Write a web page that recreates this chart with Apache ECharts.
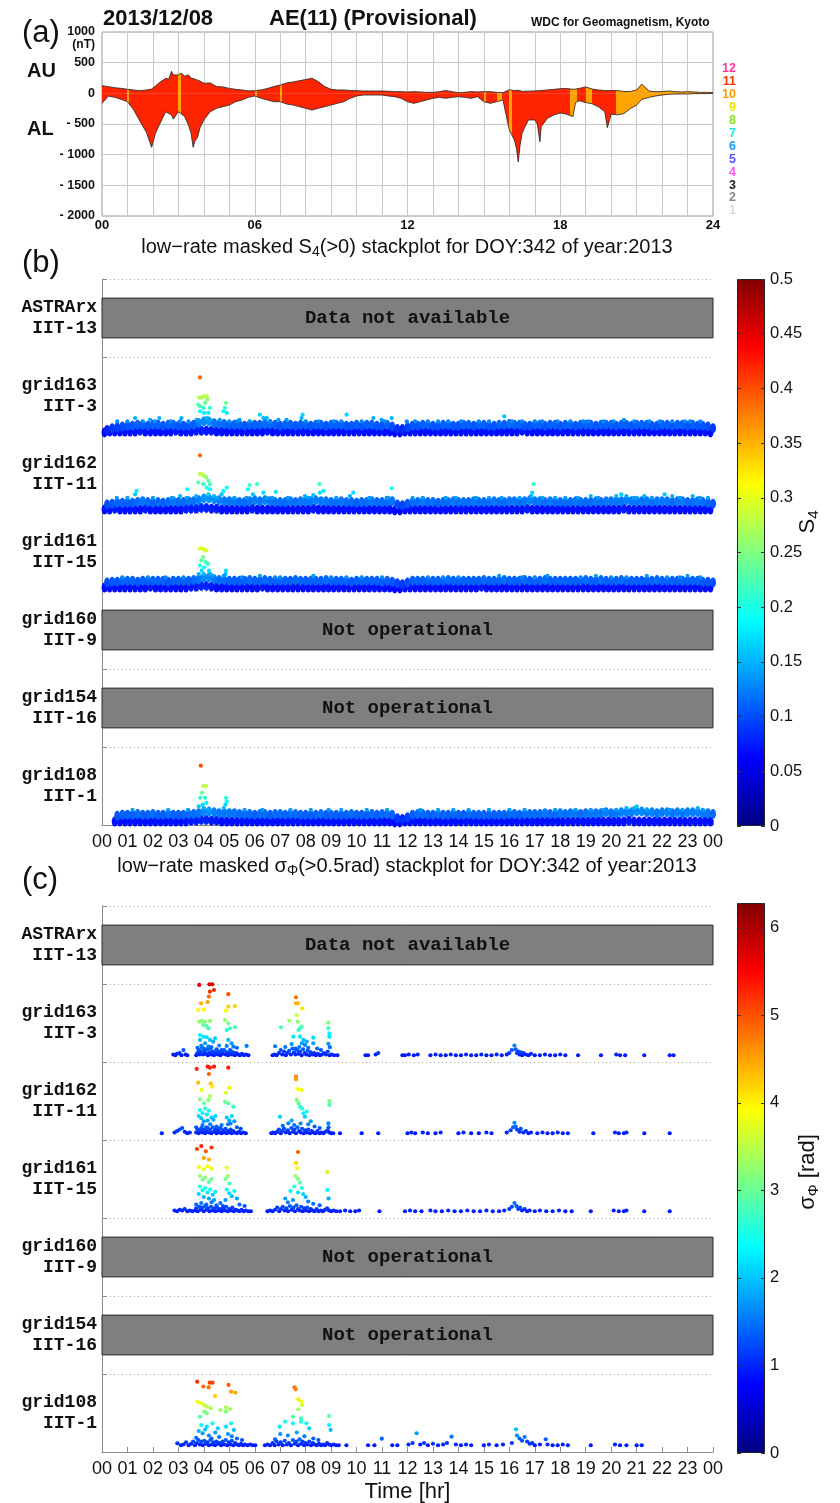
<!DOCTYPE html>
<html><head><meta charset="utf-8">
<script src="https://cdn.jsdelivr.net/npm/echarts@6.0.0/dist/echarts.min.js"></script>
<style>html,body{margin:0;padding:0;background:#fff}#c{width:840px;height:1503px}</style>
</head><body><div id="c"></div>
<script>
// ================= DATA =================
// (a) AE index, hours vs nT
const aeUpper = [[0,125],[0.25,109],[0.5,92],[0.75,81],[1,65],[1.25,54],[1.5,43],[1.75,54],[1.95,70],[2,81],[2.1,120],[2.25,174],[2.5,244],[2.62,230],[2.73,360],[2.8,300],[2.86,320],[3,300],[3.1,330],[3.25,280],[3.4,300],[3.5,250],[3.58,240],[3.65,270],[3.75,215],[3.85,200],[4,165],[4.25,170],[4.5,110],[4.75,105],[5,80],[5.25,65],[5.5,55],[5.75,40],[6,43],[6.25,55],[6.5,80],[6.75,110],[7,135],[7.25,170],[7.5,185],[7.75,205],[8,225],[8.25,245],[8.5,190],[8.75,110],[9,65],[9.25,55],[9.5,55],[9.75,45],[10,43],[10.25,38],[10.5,38],[10.75,38],[11,38],[11.25,33],[11.5,27],[11.75,27],[12,22],[12.25,27],[12.5,22],[12.75,16],[13,16],[13.25,27],[13.5,45],[13.75,27],[14,11],[14.25,16],[14.5,27],[14.75,22],[15,27],[15.25,27],[15.5,16],[15.75,11],[16,60],[16.2,45],[16.28,50],[16.35,40],[16.42,45],[16.5,30],[16.6,35],[16.75,35],[17,40],[17.1,42],[17.2,45],[17.25,45],[17.5,55],[17.75,65],[18,75],[18.25,80],[18.5,65],[18.6,70],[18.75,80],[19,105],[19.25,70],[19.5,55],[19.75,45],[19.85,45],[20,45],[20.25,45],[20.5,30],[20.75,30],[21,55],[21.2,150],[21.25,120],[21.5,35],[21.75,27],[22,27],[22.25,38],[22.5,27],[22.75,22],[23,27],[23.25,22],[23.5,16],[23.75,16],[24,11]];
const aeLower = [[0,-163],[0.25,-45],[0.5,-65],[0.75,-98],[1,-136],[1.25,-272],[1.5,-462],[1.75,-640],[1.95,-880],[2,-800],[2.1,-650],[2.25,-516],[2.5,-300],[2.62,-330],[2.73,-350],[2.8,-420],[2.86,-440],[3,-300],[3.1,-330],[3.25,-380],[3.4,-520],[3.5,-650],[3.58,-880],[3.65,-780],[3.75,-720],[3.85,-560],[4,-434],[4.25,-300],[4.5,-244],[4.75,-217],[5,-190],[5.25,-136],[5.5,-109],[5.75,-65],[6,-43],[6.25,-81],[6.5,-109],[6.75,-136],[7,-136],[7.25,-174],[7.5,-190],[7.75,-217],[8,-244],[8.25,-272],[8.5,-244],[8.75,-217],[9,-190],[9.25,-163],[9.5,-136],[9.75,-81],[10,-43],[10.25,-27],[10.5,-27],[10.75,-27],[11,-27],[11.25,-43],[11.5,-54],[11.75,-81],[12,-136],[12.25,-163],[12.5,-136],[12.75,-109],[13,-81],[13.25,-65],[13.5,-81],[13.75,-65],[14,-54],[14.25,-65],[14.5,-81],[14.75,-54],[15,-136],[15.25,-163],[15.5,-136],[15.75,-109],[16,-600],[16.2,-760],[16.28,-900],[16.35,-1120],[16.42,-850],[16.5,-652],[16.6,-560],[16.75,-434],[17,-434],[17.1,-500],[17.2,-790],[17.25,-543],[17.5,-407],[17.75,-353],[18,-320],[18.25,-340],[18.5,-380],[18.6,-150],[18.75,-120],[19,-150],[19.25,-170],[19.5,-220],[19.75,-300],[19.85,-560],[20,-340],[20.25,-350],[20.5,-330],[20.75,-250],[21,-190],[21.2,-100],[21.25,-90],[21.5,-65],[21.75,-43],[22,-27],[22.25,-16],[22.5,-11],[22.75,-11],[23,-11],[23.25,-5],[23.5,-5],[23.75,-5],[24,0]];
// spans where only 10 stations contributed (orange)
const aeTenStationSpans = [[1.0,1.07],[3.0,3.1],[6.0,6.07],[6.98,7.08],[15.0,15.08],[15.5,15.7],[16.0,16.1],[18.4,18.64],[19.0,19.25],[20.18,24.01]];
const stationCounts = ['12','11','10','9','8','7','6','5','4','3','2','1'];

// rows of the stackplots
const rowNames = ['ASTRArx\nIIT-13','grid163\nIIT-3','grid162\nIIT-11','grid161\nIIT-15','grid160\nIIT-9','grid154\nIIT-16','grid108\nIIT-1'];
const rowStatus = ['Data not available',null,null,null,'Not operational','Not operational',null];
const hourLabels = ['00','01','02','03','04','05','06','07','08','09','10','11','12','13','14','15','16','17','18','19','20','21','22','23','00'];

// (b) S4 dense band: upper points and lower points, one every 12 min (units of 0.01)
const s4Hi163 = [8,9,9.5,10,10.5, 10.5,11,11,10.5,11, 11,10.5,11,11,10.5, 10.5,10.5,11,12,13, 13,12,11.5,11.5,11, 11,11,10.5,11,11, 11,11.5,11.5,11,10.5, 11,11,10.5,11,11, 10.5,11,11,10.5,11, 11,11,10.5,10.5,11, 10.5,11,11,10.5,10.5, 11,10,8.5,8.5,9.5, 10.5,10.5,11,11,10.5, 10.5,11,11,10.5,10.5, 11,11,10.5,11,11, 10.5,10.5,11,11,11.5, 11,11,10.5,10.5,11, 11,10.5,11,11,10.5, 11,11,10.5,11,11, 11,10.5,11,11,11, 10.5,11,11,10.5,11, 11,11,10.5,10.5,11, 11,10.5,11,11,10.5, 11,10.5,10.5,10,9];
const s4Lo163 = [6.5,7,7,7,7, 7,7,7.5,7,7, 7,7,7,7,7.5, 7,7,7,7.5,7.5, 7.5,7.5,7,7,7, 7,7,7,7,7, 7,7,7.5,7,7, 7,7,7,7,7, 7,7,7,7,7, 7,7,7,7,7, 7,7,7,7,7, 7,7,6.5,6.5,7, 7,7,7,7,7, 7,7,7,7,7, 7,7,7,7,7, 7,7,7,7,7, 7,7,7.5,7,7, 7,7,7,7,7, 7,7,7,7,7, 7,7,7,7,7, 7,7,7,7,7, 7,7,7,7,7, 7,7,7,7,7, 7,7,7,7,6.5];
const s4Hi162 = [10,10.5,11,11,11, 11,11.5,12,11.5,11, 11.5,11,11.5,12,11.5, 11.5,12,12,12.5,13.5, 13.5,13,12.5,12,12, 12,11.5,11.5,12,12.5, 12,12.5,12,11.5,11.5, 11.5,12,11.5,12,12, 12,12.5,12,12,11.5, 11.5,12,11.5,11.5,11, 11.5,11.5,12,11.5,11.5, 11.5,12,10,9.5,10.5, 11.5,11.5,12,11.5,11.5, 11,11.5,11.5,12,11.5, 11.5,11.5,12,11.5,11.5, 11.5,12,11.5,11.5,12, 12,11.5,12,12.5,12, 12,11.5,12,11.5,11.5, 11.5,11.5,12,11.5,11.5, 11.5,12,11.5,12,12, 12,12,12.5,12,12, 12,12,11.5,12,12, 12,11.5,12,12,11.5, 11.5,12,11.5,11,10.5];
const s4Lo162 = [7,7,7.5,7,7, 7,7,7,7.5,7, 7,7,7,7,7, 7,7.5,7.5,7.5,8, 8,7.5,7.5,7,7, 7,7,7,7,7.5, 7,7,7,7,7, 7,7,7,7,7, 7,7.5,7,7,7, 7,7,7,7,7, 7,7,7,7,7, 7,7,6.5,6.5,7, 7,7,7,7,7, 7,7,7,7,7, 7,7,7,7,7, 7,7,7,7,7, 7,7,7,7.5,7, 7,7,7,7,7, 7,7,7,7,7, 7,7,7,7,7, 7,7,7.5,7,7, 7,7,7,7,7, 7,7,7,7,7, 7,7,7,7,7];
const s4Hi161 = [10,10.5,10.5,11,11, 11,10.5,11,11,11, 11,11,10.5,11,11, 11,11,11.5,12,13, 13,12,11.5,11.5,11, 11,11,11,11.5,11, 11,11.5,11,11,11, 11,11,11.5,11,11, 11,11,11,11.5,11, 11,11,11,10.5,11, 11,11,11,11,10.5, 11,10.5,9.5,9,10, 11,11,11,11,11, 11,11,11.5,11,11, 11,11,11,11,11.5, 11,11,11,11.5,11, 11,11,11.5,11,11, 11,11.5,11,11,11, 11,11,11,11,11.5, 11,11,11.5,11,11, 11,11.5,11,11,11, 11,11,11,11.5,11, 11,11,11,11,11, 11,11,10.5,10.5,10];
const s4Lo161 = [7,7,7,7,7, 7,7,7,7,7.5, 7,7,7,7,7, 7,7,7.5,7.5,8, 8,7.5,7,7,7, 7,7,7,7,7, 7,7.5,7,7,7, 7,7,7,7,7, 7,7,7,7,7, 7,7,7,7,7, 7,7,7,7,7, 7,7,6.5,6.5,7, 7,7,7,7,7, 7,7,7,7,7, 7,7,7,7,7.5, 7,7,7,7,7, 7,7,7,7,7, 7,7,7,7,7, 7,7,7,7,7, 7,7,7,7,7, 7,7,7,7,7, 7,7,7,7,7, 7,7,7,7,7, 7,7,7,7,7];
const s4Hi108 = [null,null,10.5,11,11, 11,11.5,11,11,11.5, 11,11,11.5,11,11, 11,11.5,11.5,12,13, 13,12.5,12,12,12, 12,11.5,11.5,11.5,11, 11.5,11.5,11,11.5,11.5, 11,11.5,11.5,11,11, 11,11,11.5,11,11, 11,11,11,11.5,11, 11,11,11.5,11,11.5, 11.5,11,9,8.5,9.5, 11,11.5,11.5,11,11, 11.5,11,11,11.5,11, 11,11.5,11,11,11, 11,11,11,11,11.5, 11.5,11,11.5,11.5,11.5, 11.5,12,11.5,11.5,12, 11.5,12,12,11.5,12, 12,12,12,12.5,12, 12,12.5,12.5,12.5,13, 13,12.5,12.5,12,12.5, 12.5,12,12.5,12,12.5, 12.5,12.5,12,12,11.5];
const s4Lo108 = [null,null,7,7,7, 7,7,7,7,7, 7,7,7,7,7, 7,7,7.5,7.5,8, 8,7.5,7.5,7,7, 7,7,7,7,7, 7,7,7,7,7, 7,7,7,7,7, 7,7,7,7,7, 7,7,7,7,7, 7,7,7,7,7, 7,7,6.5,6.5,7, 7,7,7,7,7, 7,7,7,7,7, 7,7,7,7,7, 7,7,7,7,7, 7,7,7,7,7, 7,7,7,7,7, 7,7,7,7,7, 7,7,7,7,7, 7,7,7,7.5,7, 7,7,7,7,7, 7,7,7,7,7, 7,7,7,7,7];
// (b) S4 points above the band [hour, S4]
const s4Out163 = [[3.85,0.39],[3.82,0.27],[3.91,0.27],[4.01,0.28],[4.11,0.28],[4.14,0.26],[4.05,0.24],[3.78,0.23],[3.85,0.22],[3.98,0.21],[4.01,0.18],[3.85,0.19],[4.24,0.21],[4.18,0.18],[4.87,0.24],[4.83,0.21],[4.9,0.18],[4.77,0.19],[3.72,0.14],[3.85,0.13],[4.11,0.15],[4.24,0.14],[3.12,0.15],[3.06,0.13],[1.3,0.15],[1.89,0.14],[2.08,0.13],[2.25,0.15],[4.63,0.14],[6.2,0.17],[6.34,0.15],[6.47,0.15],[6.93,0.14],[7.25,0.14],[7.88,0.17],[7.84,0.15],[9.61,0.17],[10.66,0.15],[10.98,0.14],[11.38,0.15],[11.97,0.13],[12.3,0.13],[15.8,0.16],[5.4,0.14],[5.3,0.13],[8.5,0.13],[13.2,0.13],[14.1,0.13],[16.5,0.13],[17.3,0.13],[18.4,0.13],[19.7,0.13],[20.5,0.14],[21.5,0.13],[22.4,0.13],[23.1,0.13],[0.6,0.13],[2.7,0.13],[9.1,0.13],[10.2,0.13],[12.8,0.13],[14.8,0.13],[17.9,0.13],[19.1,0.13],[20.9,0.13],[22.9,0.13],[1.0,0.13],[1.6,0.13],[3.4,0.13],[5.0,0.13],[5.8,0.13],[6.6,0.13],[8.0,0.13],[9.4,0.13],[11.1,0.13],[13.6,0.13],[15.2,0.13],[16.1,0.13],[17.0,0.13],[18.9,0.13],[20.1,0.13],[21.9,0.13],[23.5,0.13]];
const s4Out162 = [[3.85,0.39],[3.85,0.28],[3.91,0.28],[4.01,0.27],[4.09,0.26],[4.18,0.24],[4.24,0.22],[3.78,0.23],[3.98,0.22],[4.11,0.2],[4.24,0.19],[4.18,0.16],[3.35,0.19],[4.9,0.2],[4.77,0.18],[4.7,0.16],[1.36,0.18],[1.3,0.16],[5.8,0.215],[6.09,0.22],[5.73,0.19],[5.93,0.16],[5.68,0.14],[6.34,0.17],[6.83,0.175],[6.7,0.14],[6.47,0.14],[8.54,0.22],[8.7,0.18],[8.56,0.17],[8.3,0.156],[8.1,0.14],[7.97,0.15],[9.87,0.17],[9.74,0.15],[11.38,0.196],[11.18,0.14],[11.25,0.14],[2.74,0.14],[3.07,0.15],[3.33,0.14],[0.58,0.14],[16.95,0.22],[16.9,0.17],[16.85,0.15],[16.4,0.14],[17.3,0.14],[19.2,0.15],[19.5,0.14],[20.2,0.15],[20.4,0.16],[20.6,0.15],[20.9,0.14],[21.3,0.15],[21.6,0.14],[22.1,0.16],[22.4,0.15],[22.7,0.14],[23.2,0.15],[23.5,0.14],[14.7,0.14],[15.2,0.14],[13.5,0.14],[12.6,0.14],[18.2,0.14],[10.5,0.14],[4.4,0.15],[3.7,0.15],[4.55,0.14],[1.0,0.14],[2.0,0.14],[5.2,0.14],[7.3,0.14],[9.2,0.14],[12.2,0.14],[13.9,0.14],[15.7,0.14],[17.8,0.14],[18.7,0.14],[21.0,0.14],[23.8,0.14]];
const s4Out161 = [[3.85,0.3],[3.95,0.3],[4.05,0.29],[4.1,0.29],[3.98,0.25],[3.9,0.23],[4.08,0.22],[4.16,0.21],[3.85,0.2],[4.02,0.19],[3.92,0.17],[4.2,0.17],[4.26,0.15],[3.8,0.15],[4.0,0.15],[4.35,0.14],[4.87,0.17],[4.85,0.15],[4.78,0.14],[1.8,0.13],[2.5,0.13],[5.5,0.13],[6.2,0.14],[7.0,0.13],[8.3,0.14],[9.0,0.13],[10.2,0.13],[11.0,0.13],[12.8,0.13],[14.0,0.13],[15.6,0.14],[16.5,0.13],[17.5,0.14],[18.8,0.13],[19.4,0.14],[20.6,0.13],[21.4,0.14],[22.2,0.13],[23.0,0.14],[23.5,0.13],[0.8,0.13],[3.2,0.13],[6.8,0.13],[9.6,0.13],[13.4,0.13],[17.0,0.13],[20.0,0.13],[22.7,0.13]];
const s4Out108 = [[3.88,0.4],[3.98,0.28],[4.08,0.28],[3.93,0.24],[3.86,0.21],[4.05,0.21],[3.95,0.17],[4.1,0.18],[4.0,0.15],[3.8,0.16],[4.2,0.14],[4.87,0.21],[4.9,0.19],[4.85,0.17],[4.78,0.15],[3.38,0.14],[6.3,0.14],[7.4,0.14],[9.4,0.14],[11.2,0.14],[13.2,0.14],[15.2,0.14],[17.8,0.14],[19.2,0.14],[20.2,0.14],[20.6,0.15],[21.0,0.16],[20.9,0.15],[21.4,0.14],[22.8,0.14],[23.4,0.15],[23.6,0.14],[8.2,0.14],[10.4,0.14],[12.5,0.14],[14.4,0.14],[16.6,0.14],[18.6,0.14],[1.2,0.14],[2.6,0.14],[5.6,0.14],[8.9,0.14],[13.8,0.14],[16.0,0.14],[19.7,0.14],[22.3,0.14]];

// (c) sigma-phi points [hour, rad]
const phi163 = [[3.82,5.64],[4.22,5.68],[4.33,5.68],[4.4,5.3],[4.24,5.19],[4.2,4.86],[4.96,5.02],[3.89,4.41],[4.15,4.5],[4.96,4.19],[5.22,4.23],[3.78,3.97],[4.01,3.99],[4.87,3.92],[3.82,3.19],[3.91,3.24],[4.05,3.19],[4.24,3.24],[4.11,2.9],[4.18,2.75],[3.98,2.97],[4.83,3.3],[4.96,3.08],[5.03,2.75],[5.22,2.82],[4.9,2.63],[3.85,2.3],[3.98,2.19],[4.11,2.15],[4.24,1.97],[4.37,1.85],[4.44,2.08],[3.85,1.97],[4.05,1.75],[4.18,1.52],[4.96,1.97],[5.09,1.75],[5.16,1.52],[4.9,1.57],[5.03,1.3],[3.9,1.6],[4.0,1.4],[4.3,1.5],[4.5,1.35],[4.6,1.6],[4.7,1.3],[5.3,1.45],[5.68,1.57],[3.75,1.45],[4.55,1.2],
 [7.03,2.81],[7.36,3.25],[7.62,4.81],[7.62,4.41],[7.69,4.41],[7.87,4.08],[7.65,3.63],[7.69,3.19],[7.78,2.75],[7.85,2.86],[7.72,2.63],[7.52,2.19],[7.78,2.19],[7.91,1.97],[7.85,1.75],[7.97,1.64],[8.04,1.86],[8.3,2.12],[8.3,1.75],[8.89,3.12],[8.89,2.75],[8.93,2.41],[8.93,2.19],[8.89,1.71],[8.95,1.49],[6.8,1.55],[7.2,1.5],[7.45,1.7],[8.1,1.45],[8.45,1.4],[8.6,1.3],[7.6,1.4],[7.75,1.5],
 [2.8,1.0],[2.88,0.95],[2.95,1.05],[3.05,1.1],[3.12,0.95],[3.2,1.3],[3.28,1.0],[3.35,0.95],
 [3.7,0.95],[3.75,1.1],[3.8,1.3],[3.84,1.0],[3.88,1.2],[3.93,1.45],[3.97,1.0],[4.02,1.2],[4.07,1.05],[4.12,1.35],[4.16,0.95],[4.21,1.15],[4.26,1.4],[4.3,1.0],[4.35,1.2],[4.4,0.95],[4.45,1.1],[4.5,1.3],[4.55,1.0],[4.6,1.15],[4.65,0.95],[4.7,1.2],[4.75,1.05],[4.8,1.3],[4.85,1.0],[4.9,1.15],[4.95,0.95],[5.0,1.1],[5.05,1.25],[5.1,1.0],[5.15,1.15],[5.22,0.95],[5.28,1.1],[5.35,1.0],[5.42,0.95],[5.5,1.05],[5.58,0.95],[5.66,1.0],[5.75,0.95],
 [6.7,0.95],[6.78,1.0],[6.86,0.95],[6.95,1.1],[7.02,1.3],[7.08,1.0],[7.15,1.2],[7.22,0.95],[7.28,1.1],[7.35,1.25],[7.42,1.0],[7.48,1.4],[7.54,1.15],[7.6,1.0],[7.66,1.3],[7.72,1.05],[7.78,1.2],[7.84,0.95],[7.9,1.35],[7.96,1.1],[8.02,1.0],[8.08,1.25],[8.14,0.95],[8.2,1.15],[8.27,1.0],[8.34,1.1],[8.4,0.95],[8.48,1.05],[8.56,0.95],[8.64,1.0],[8.72,1.1],[8.8,1.0],[8.87,1.2],[8.94,0.95],[9.02,1.0],[9.12,0.95],[9.25,0.95],
 [10.35,0.95],[10.45,0.95],[10.75,1.0],[10.85,1.1],[11.8,0.95],[11.9,0.95],[12.05,1.0],[12.25,0.95],[12.4,1.0],[12.9,0.95],[13.1,1.0],[13.3,0.95],[13.5,0.95],[13.7,1.0],[13.9,0.95],[14.1,0.95],[14.3,1.0],[14.5,0.95],[14.7,0.95],[14.9,1.0],[15.1,0.95],[15.3,0.95],[15.5,1.0],[15.7,0.95],[15.9,1.0],[16.0,1.1],[16.1,1.3],[16.2,1.6],[16.25,1.35],[16.3,1.1],[16.35,1.2],[16.4,1.0],[16.45,1.15],[16.5,0.95],[16.55,1.1],[16.65,1.0],[16.75,0.95],[16.85,1.05],[17.0,0.95],[17.2,0.95],[17.4,1.0],[17.6,0.95],[17.8,0.95],[18.0,1.0],[18.2,0.95],[18.7,0.95],[19.6,0.95],[20.2,1.0],[20.35,0.95],[20.55,0.95],[21.3,0.95],[22.3,0.95],[22.45,0.95]];
const phi162 = [[3.72,5.24],[4.15,5.39],[4.24,5.32],[4.4,5.39],[4.2,4.9],[4.96,5.32],[3.78,4.32],[4.27,4.28],[4.33,4.06],[3.91,3.83],[4.87,3.65],[5.0,3.99],[3.85,3.21],[4.01,2.95],[4.18,3.17],[4.24,3.43],[4.83,3.06],[4.96,2.95],[5.16,2.72],[3.85,2.5],[3.95,2.3],[4.05,2.6],[4.12,2.2],[4.2,2.45],[4.3,2.0],[4.38,1.85],[3.9,1.95],[4.0,1.75],[4.15,1.8],[4.45,2.1],[3.8,2.1],[4.9,2.0],[5.0,1.8],[5.1,2.1],[5.2,1.75],[5.05,1.6],[4.95,1.55],[3.95,1.5],[4.1,1.35],[4.25,1.55],[4.5,1.4],[4.6,1.25],[4.7,1.5],[5.3,1.35],[5.45,1.25],[3.7,1.35],
 [6.99,2.05],[7.32,1.61],[7.62,4.72],[7.62,4.55],[7.69,3.9],[7.85,3.83],[7.65,3.17],[7.72,2.95],[7.78,2.72],[7.85,2.6],[7.91,2.28],[7.97,2.05],[8.04,2.4],[8.93,3.1],[8.93,2.84],[8.89,1.61],[7.1,1.45],[7.45,1.8],[7.55,1.5],[7.8,1.6],[8.1,1.55],[8.2,1.75],[8.35,1.4],[8.55,1.3],[8.9,1.35],
 [2.35,0.95],[2.85,1.0],[2.95,1.1],[3.05,1.2],[3.15,1.3],[3.25,1.05],[3.35,0.95],[3.45,1.0],
 [3.7,1.0],[3.75,1.2],[3.8,0.95],[3.85,1.15],[3.9,1.3],[3.95,1.0],[4.0,1.2],[4.05,0.95],[4.1,1.1],[4.15,1.3],[4.2,1.0],[4.25,1.2],[4.3,0.95],[4.35,1.35],[4.4,1.05],[4.45,1.2],[4.5,0.95],[4.55,1.1],[4.6,1.0],[4.65,1.3],[4.7,0.95],[4.75,1.15],[4.8,1.0],[4.85,1.25],[4.9,0.95],[4.95,1.1],[5.0,1.0],[5.05,1.2],[5.1,0.95],[5.15,1.1],[5.22,1.0],[5.3,0.95],[5.38,1.05],[5.46,0.95],[5.55,1.0],[5.65,0.95],
 [6.65,0.95],[6.72,1.0],[6.8,0.95],[6.88,1.05],[6.95,1.2],[7.02,0.95],[7.08,1.1],[7.15,1.25],[7.22,1.0],[7.3,1.15],[7.37,0.95],[7.44,1.3],[7.5,1.05],[7.56,1.2],[7.62,0.95],[7.68,1.35],[7.74,1.1],[7.8,1.0],[7.86,1.25],[7.92,0.95],[7.98,1.15],[8.04,1.0],[8.1,1.2],[8.17,0.95],[8.24,1.1],[8.3,1.0],[8.38,0.95],[8.46,1.1],[8.54,0.95],[8.62,1.0],[8.7,0.95],[8.78,1.05],[8.86,1.15],[8.93,1.0],[9.0,0.95],[9.08,0.95],
 [9.35,0.95],[10.2,0.95],[10.85,0.95],[12.0,0.95],[12.15,1.0],[12.3,0.95],[12.6,1.0],[12.8,0.95],[13.1,0.95],[13.3,1.0],[14.0,0.95],[14.2,1.0],[14.5,0.95],[14.8,0.95],[15.1,1.0],[15.3,0.95],[15.9,1.0],[16.05,1.15],[16.15,1.35],[16.2,1.65],[16.25,1.4],[16.3,1.2],[16.4,1.05],[16.45,1.25],[16.55,1.0],[16.65,1.1],[16.75,0.95],[16.85,1.0],[17.1,0.95],[17.3,1.0],[17.5,0.95],[17.7,0.95],[17.9,1.0],[18.1,0.95],[18.3,0.95],[19.3,0.95],[20.15,1.0],[20.3,0.95],[20.5,0.95],[20.6,1.0],[21.3,0.95],[22.3,0.95]];
const phi161 = [[3.73,5.1],[3.9,5.3],[4.08,4.95],[4.3,5.2],[4.2,4.4],[4.0,4.5],[3.8,3.9],[4.0,3.75],[4.15,3.95],[4.3,3.8],[4.9,3.85],[3.85,3.3],[3.95,3.05],[4.05,3.2],[4.2,2.9],[4.3,3.1],[4.85,3.1],[5.0,2.8],[4.95,3.3],[3.85,2.6],[3.95,2.35],[4.05,2.5],[4.15,2.2],[4.25,2.4],[4.35,2.05],[4.45,2.25],[3.8,2.1],[4.0,1.9],[4.2,1.8],[4.4,1.7],[4.9,2.4],[5.0,2.15],[5.1,1.95],[5.2,2.3],[5.3,1.8],[4.85,1.7],[3.9,1.5],[4.1,1.4],[4.3,1.55],[4.5,1.35],[4.65,1.5],[4.75,1.3],[5.4,1.4],[5.6,1.3],[3.7,1.4],
 [7.7,4.9],[7.62,4.17],[7.66,3.83],[7.6,3.3],[7.7,3.1],[7.78,2.85],[7.55,2.6],[7.85,2.5],[7.4,2.3],[7.7,2.2],[7.9,2.1],[8.0,1.9],[7.2,1.8],[7.3,1.55],[7.5,1.7],[8.1,1.6],[8.3,1.45],[8.85,3.57],[8.85,2.37],[8.9,1.8],[8.55,1.35],
 [2.85,1.0],[2.95,0.95],[3.05,1.05],[3.15,1.0],[3.25,1.1],[3.35,0.95],[3.45,1.0],[3.55,0.95],
 [3.65,1.0],[3.7,1.15],[3.76,0.95],[3.82,1.25],[3.88,1.05],[3.94,1.2],[4.0,0.95],[4.05,1.3],[4.1,1.05],[4.16,1.15],[4.22,0.95],[4.28,1.25],[4.34,1.0],[4.4,1.15],[4.46,0.95],[4.52,1.2],[4.58,1.0],[4.64,1.1],[4.7,0.95],[4.76,1.15],[4.82,1.0],[4.88,1.25],[4.94,0.95],[5.0,1.1],[5.06,1.0],[5.12,1.2],[5.18,0.95],[5.25,1.05],[5.32,1.0],[5.4,0.95],[5.48,1.05],[5.56,0.95],[5.65,1.0],[5.75,0.95],[5.85,0.95],
 [6.5,0.95],[6.6,1.0],[6.7,0.95],[6.8,1.05],[6.88,1.2],[6.96,0.95],[7.03,1.1],[7.1,1.25],[7.17,1.0],[7.24,1.15],[7.31,0.95],[7.38,1.3],[7.45,1.05],[7.52,1.2],[7.58,0.95],[7.64,1.35],[7.7,1.1],[7.76,1.0],[7.82,1.25],[7.88,0.95],[7.94,1.15],[8.0,1.0],[8.06,1.2],[8.13,0.95],[8.2,1.1],[8.27,1.0],[8.35,0.95],[8.43,1.1],[8.51,0.95],[8.6,1.0],[8.68,0.95],[8.76,1.05],[8.84,1.15],[8.92,1.0],[9.0,0.95],[9.1,1.0],[9.2,0.95],[9.35,0.95],[9.55,1.0],[9.75,0.95],[9.95,0.95],[10.1,1.0],
 [10.9,0.95],[11.9,0.95],[12.1,1.0],[12.3,0.95],[12.55,0.95],[12.9,1.0],[13.1,0.95],[13.35,0.95],[13.6,1.0],[13.85,0.95],[14.1,0.95],[14.35,1.0],[14.6,0.95],[14.85,0.95],[15.1,1.0],[15.35,0.95],[15.6,0.95],[15.8,1.0],[16.0,1.1],[16.1,1.25],[16.2,1.5],[16.28,1.3],[16.35,1.1],[16.42,1.2],[16.5,1.0],[16.6,1.1],[16.7,0.95],[16.8,1.0],[17.0,0.95],[17.2,1.0],[17.45,0.95],[17.7,0.95],[17.95,1.0],[18.2,0.95],[18.45,0.95],[19.2,0.95],[20.1,1.0],[20.3,0.95],[20.5,0.95],[20.6,1.0],[21.3,0.95],[22.3,0.95]];
const phi108 = [[3.74,5.19],[3.98,4.86],[4.23,5.12],[4.34,5.12],[4.19,4.81],[4.97,4.97],[5.07,4.52],[5.24,4.45],[4.44,4.23],[3.76,3.85],[3.9,3.75],[4.02,3.63],[4.12,3.52],[4.27,3.41],[4.65,3.3],[4.87,3.47],[5.03,3.36],[4.02,3.19],[4.12,3.08],[3.85,2.85],[4.87,3.19],[3.9,2.3],[4.12,2.19],[4.34,2.41],[4.55,2.08],[4.87,2.19],[5.07,2.41],[5.18,1.97],[3.8,1.9],[3.95,1.75],[4.05,2.0],[4.2,1.6],[4.45,1.8],[4.6,1.5],[4.95,1.7],[5.1,1.55],[5.3,1.4],[4.3,1.4],[3.7,1.45],[5.5,1.3],
 [7.56,4.81],[7.61,4.68],[7.71,4.01],[7.82,3.86],[7.86,3.63],[7.71,3.35],[7.5,2.85],[7.82,2.74],[6.98,2.19],[7.19,2.52],[7.5,2.41],[7.82,2.52],[8.03,2.41],[8.14,2.08],[8.92,2.9],[8.92,2.3],[8.98,1.97],[7.0,1.7],[7.3,1.6],[7.65,1.8],[7.95,1.55],[8.3,1.4],[8.5,1.3],[6.8,1.35],
 [2.96,1.08],[3.1,0.95],[3.2,1.0],[3.3,1.15],[3.4,0.95],[3.5,1.05],[3.58,1.2],[3.65,0.95],[3.72,1.1],[3.78,1.3],[3.84,1.0],[3.9,1.2],[3.96,0.95],[4.02,1.25],[4.08,1.05],[4.14,1.15],[4.2,0.95],[4.26,1.3],[4.32,1.0],[4.38,1.15],[4.44,0.95],[4.5,1.2],[4.56,1.05],[4.62,1.1],[4.68,0.95],[4.74,1.2],[4.8,1.0],[4.86,1.3],[4.92,0.95],[4.98,1.15],[5.04,1.0],[5.1,1.25],[5.16,0.95],[5.23,1.1],[5.3,1.0],[5.38,0.95],[5.46,1.05],[5.54,0.95],[5.62,1.0],[5.72,0.95],[5.82,1.0],[5.92,0.95],[6.02,0.95],
 [6.4,0.95],[6.5,1.0],[6.6,0.95],[6.7,1.1],[6.78,0.95],[6.86,1.2],[6.94,1.0],[7.02,1.15],[7.1,0.95],[7.18,1.25],[7.26,1.0],[7.34,1.1],[7.42,0.95],[7.5,1.3],[7.57,1.05],[7.64,1.2],[7.7,0.95],[7.76,1.35],[7.82,1.05],[7.88,1.2],[7.94,0.95],[8.0,1.1],[8.07,1.0],[8.14,1.2],[8.21,0.95],[8.28,1.1],[8.36,1.0],[8.44,0.95],[8.52,1.05],[8.6,0.95],[8.68,1.0],[8.76,0.95],[8.84,1.1],[8.92,1.0],[9.0,0.95],[9.1,1.0],[9.2,0.95],[9.3,0.95],
 [9.6,0.95],[10.45,0.95],[10.7,0.95],[10.99,1.39],[11.4,0.95],[11.6,0.95],[12.04,1.0],[12.2,1.1],[12.36,1.75],[12.5,1.0],[12.65,1.1],[12.8,0.95],[13.0,1.05],[13.2,0.95],[13.4,1.0],[13.55,1.1],[13.73,1.52],[13.9,1.0],[14.1,0.95],[14.3,1.0],[14.5,0.95],[15.0,0.95],[15.2,1.0],[15.5,0.95],[15.75,1.0],[16.1,1.1],[16.26,2.01],[16.3,1.6],[16.4,1.4],[16.5,1.25],[16.6,1.5],[16.7,1.2],[16.8,1.05],[16.9,1.1],[17.0,0.95],[17.2,1.0],[17.43,1.35],[17.5,1.0],[17.7,0.95],[17.9,0.95],[18.1,1.0],[18.3,0.95],[19.2,0.95],[20.15,1.0],[20.35,0.95],[20.6,0.95],[21.0,0.95],[21.2,0.95]];

// ================= BUILD =================
const FONT = 'Liberation Sans';
const MONO = 'Liberation Mono';
const JET = ['#000080','#0000ff','#0080ff','#00ffff','#80ff80','#ffff00','#ff8000','#ff0000','#800000'];
const RED = '#ff2400', ORANGE = '#ffa400';
const AXC = '#8c8c8c';
const GL = 102, GW = 611, ROW_H = 78;

const grid = [], xAxis = [], yAxis = [], series = [], graphic = [];
const s4Idx = [], phiIdx = [];

// ---- (a) AE ----
grid.push({left:GL, top:32, width:GW, height:184, show:true, borderColor:'#9a9a9a', borderWidth:1, containLabel:false, outerBoundsMode:'none'});
xAxis.push({gridIndex:0, type:'value', min:0, max:24, interval:1,
  axisLine:{show:false}, axisTick:{show:false},
  splitLine:{show:true, lineStyle:{color:'#c8c8c8', width:1}},
  axisLabel:{show:true, margin:3, fontSize:13, fontWeight:'bold', color:'#111', fontFamily:FONT, hideOverlap:false,
    formatter:v => (v % 6 === 0 ? String(v).padStart(2,'0') : '')}});
yAxis.push({gridIndex:0, type:'value', min:-2000, max:1000, interval:500,
  axisLine:{show:false}, axisTick:{show:false},
  splitLine:{show:true, lineStyle:{color:'#c8c8c8', width:1}},
  axisLabel:{margin:7, fontSize:12.5, fontWeight:'bold', color:'#111', fontFamily:FONT,
    formatter:v => (v < 0 ? '- ' + (-v) : String(v))}});
series.push({type:'line', xAxisIndex:0, yAxisIndex:0, data:aeUpper, showSymbol:false, silent:true, lineStyle:{width:0, opacity:0}, areaStyle:{opacity:1}, z:2});
series.push({type:'line', xAxisIndex:0, yAxisIndex:0, data:aeLower, showSymbol:false, silent:true, lineStyle:{width:0, opacity:0}, areaStyle:{opacity:1}, z:2});
series.push({type:'line', xAxisIndex:0, yAxisIndex:0, data:aeUpper, showSymbol:false, silent:true, lineStyle:{width:0.9, color:'#3c2a26'}, z:3});
series.push({type:'line', xAxisIndex:0, yAxisIndex:0, data:aeLower, showSymbol:false, silent:true, lineStyle:{width:0.9, color:'#3c2a26'}, z:3});
const aePieces = []; let cur = -1;
aeTenStationSpans.forEach(([a,b]) => { aePieces.push({gte:cur, lt:a, color:RED}); aePieces.push({gte:a, lt:b, color:ORANGE}); cur = b; });
aePieces.push({gte:cur, lt:100, color:RED});

// ---- stacked row panels ----
const loTime = i => 0.1 + i * 0.2;   // lower band samples
const hiTime = i => 0.2 + i * 0.2;   // upper band samples (staggered)
const s4Rows = [null, {hi:s4Hi163, lo:s4Lo163, out:s4Out163}, {hi:s4Hi162, lo:s4Lo162, out:s4Out162}, {hi:s4Hi161, lo:s4Lo161, out:s4Out161}, null, null, {hi:s4Hi108, lo:s4Lo108, out:s4Out108}];
const phiRows = [null, phi163, phi162, phi161, null, null, phi108];

function boxSeries(gi, yi, text) {
  return {type:'custom', xAxisIndex:gi, yAxisIndex:yi, silent:true, z:5, data:[[0,24,0.245,0.755]],
    renderItem:(p, api) => {
      const a = api.coord([api.value(0), api.value(3)]);
      const b = api.coord([api.value(1), api.value(2)]);
      return {type:'group', children:[
        {type:'rect', shape:{x:a[0], y:a[1], width:b[0]-a[0], height:b[1]-a[1]}, style:{fill:'#7f7f7f', stroke:'#2a2a2a', lineWidth:1}},
        {type:'text', x:(a[0]+b[0])/2, y:(a[1]+b[1])/2, style:{text:text, align:'center', verticalAlign:'middle', font:'bold 19px "' + MONO + '"', fill:'#111'}}
      ]};
    }};
}

function addPanel(top, dMin, dMax, isS4, last) {
  for (let r = 0; r < 7; r++) {
    const gi = grid.length;
    grid.push({left:GL, top:top + r*ROW_H, width:GW, height:ROW_H, containLabel:false, outerBoundsMode:'none'});
    const bottom = r === 6;
    const xa = {gridIndex:gi, type:'value', min:0, max:24, interval:1, show:bottom,
      axisLine:{show:true, lineStyle:{color:AXC}},
      axisTick:{show:true, inside:true, length:5, lineStyle:{color:AXC}},
      splitLine:{show:false},
      axisLabel:{show:true, margin:8, fontSize:18, color:'#111', fontFamily:FONT, hideOverlap:false,
        formatter:v => hourLabels[Math.round(v)]}};
    if (bottom && last) { xa.name = 'Time [hr]'; xa.nameLocation = 'middle'; xa.nameGap = 29; xa.nameTextStyle = {fontSize:22, color:'#111', fontFamily:FONT}; }
    xAxis.push(xa);
    const yf = yAxis.length;
    yAxis.push({gridIndex:gi, type:'value', min:0, max:1, interval:1, position:'left',
      axisLine:{show:true, lineStyle:{color:AXC}},
      axisTick:{show:true, inside:true, length:5, lineStyle:{color:AXC}},
      axisLabel:{show:false},
      splitLine:{show:true, lineStyle:{color:'#a8a8a8', width:1, type:[1,3]}},
      name:rowNames[r], nameLocation:'middle', nameRotate:0, nameGap:5,
      nameTextStyle:{fontFamily:MONO, fontWeight:'bold', fontSize:18, lineHeight:21, color:'#111', align:'right', verticalAlign:'middle'}});
    const yd = yAxis.length;
    yAxis.push({gridIndex:gi, type:'value', min:dMin, max:dMax, show:false, position:'right'});
    if (rowStatus[r]) { series.push(boxSeries(gi, yf, rowStatus[r])); continue; }
    if (isS4) {
      const row = s4Rows[r];
      const band = [];
      row.lo.forEach((v,i) => { if (v != null) band.push([loTime(i), v/100]); });
      row.hi.forEach((v,i) => { if (v != null) band.push([hiTime(i), v/100]); });
      s4Idx.push(series.length);
      series.push({type:'scatter', xAxisIndex:gi, yAxisIndex:yd, data:band, symbol:'circle', symbolSize:[6,10], silent:true, z:2, itemStyle:{opacity:1}});
      s4Idx.push(series.length);
      series.push({type:'scatter', xAxisIndex:gi, yAxisIndex:yd, data:row.out, symbol:'circle', symbolSize:4.2, silent:true, z:3, itemStyle:{opacity:1}});
    } else {
      phiIdx.push(series.length);
      series.push({type:'scatter', xAxisIndex:gi, yAxisIndex:yd, data:phiRows[r], symbol:'circle', symbolSize:4.2, silent:true, z:3, itemStyle:{opacity:1}});
    }
  }
}
addPanel(279, 0.05, 0.51, true, false);
addPanel(906, 0.5, 5.7, false, true);

// ---- colorbars ----
const jetGrad = {type:'linear', x:0, y:1, x2:0, y2:0, colorStops:JET.map((c,i) => ({offset:i/(JET.length-1), color:c}))};
function addColorbar(top, height, max, interval, fmt) {
  const gi = grid.length;
  grid.push({left:737, top:top, width:28, height:height, containLabel:false, outerBoundsMode:'none'});
  xAxis.push({gridIndex:gi, type:'category', data:['c'], show:false});
  const yr = yAxis.length;
  yAxis.push({gridIndex:gi, type:'value', min:0, max:max, interval:interval, position:'right', z:10,
    axisLine:{show:false}, splitLine:{show:false},
    axisTick:{show:true, inside:true, length:4, lineStyle:{color:'#333'}},
    axisLabel:{show:true, margin:5, fontSize:16.5, color:'#111', fontFamily:FONT, formatter:fmt, hideOverlap:false}});
  yAxis.push({gridIndex:gi, type:'value', min:0, max:max, interval:interval, position:'left', z:10,
    axisLine:{show:false}, splitLine:{show:false}, axisLabel:{show:false},
    axisTick:{show:true, inside:true, length:4, lineStyle:{color:'#333'}}});
  series.push({type:'bar', xAxisIndex:gi, yAxisIndex:yr, data:[max], barWidth:'100%', silent:true, z:1,
    itemStyle:{color:jetGrad, borderColor:'#222', borderWidth:1}});
}
addColorbar(279, 547, 0.5, 0.05, v => String(Math.round(v*100)/100));
addColorbar(903, 550, 2*Math.PI, 1, v => (Math.abs(v - Math.round(v)) < 1e-6 ? String(Math.round(v)) : ''));

// ---- texts ----
function txt(x, y, text, font, opts) {
  const o = Object.assign({align:'left', va:'middle', fill:'#111'}, opts || {});
  const el = {type:'text', x:x, y:y, silent:true, z:50,
    style:{text:text, font:font, fill:o.fill, align:o.align, verticalAlign:o.va, textAlign:o.align, textVerticalAlign:o.va}};
  if (o.rich) el.style.rich = o.rich;
  if (o.rotation) el.rotation = o.rotation;
  return el;
}
const F = (s, w) => (w ? 'bold ' : '') + s + 'px "' + FONT + '"';
graphic.push(txt(22, 33, '(a)', F(31)));
graphic.push(txt(103, 19, '2013/12/08', F(22, true)));
graphic.push(txt(269, 19, 'AE(11) (Provisional)', F(22, true)));
graphic.push(txt(531, 23, 'WDC for Geomagnetism, Kyoto', F(12, true)));
graphic.push(txt(95, 45, '(nT)', F(12, true), {align:'right'}));
graphic.push(txt(27, 71, 'AU', F(20, true)));
graphic.push(txt(27, 129, 'AL', F(20, true)));
const stationColors = ['#ff3399','#ff3300','#ff9900','#f5e400','#88e020','#22e8d8','#2299ff','#5555ff','#ff55ff','#222222','#888888','#d8d8d8'];
stationCounts.forEach((s, k) => graphic.push(txt(736, 69 + k*12.9, s, F(12.5, true), {align:'right', fill:stationColors[k]})));

const richTitle = {
  a:{fontSize:20, fontFamily:FONT, lineHeight:24},
  s:{fontSize:14, fontFamily:FONT, lineHeight:14, verticalAlign:'bottom'}
};
graphic.push(txt(22, 263, '(b)', F(31)));
graphic.push(txt(407, 247, '{a|low\u2212rate masked S}{s|4}{a|(>0) stackplot for DOY:342 of year:2013}', F(20), {align:'center', rich:richTitle}));
graphic.push(txt(22, 880, '(c)', F(31)));
graphic.push(txt(407, 866, '{a|low\u2212rate masked \u03c3}{s|\u03a6}{a|(>0.5rad) stackplot for DOY:342 of year:2013}', F(20), {align:'center', rich:richTitle}));
graphic.push(txt(808, 522, '{a|S}{s|4}', F(22), {align:'center', rotation:Math.PI/2, rich:{a:{fontSize:22, fontFamily:FONT, lineHeight:26}, s:{fontSize:15, fontFamily:FONT, lineHeight:15, verticalAlign:'bottom'}}}));
graphic.push(txt(808, 1172, '{a|\u03c3}{s|\u03a6}{a| [rad]}', F(22), {align:'center', rotation:Math.PI/2, rich:{a:{fontSize:22, fontFamily:FONT, lineHeight:26}, s:{fontSize:15, fontFamily:FONT, lineHeight:15, verticalAlign:'bottom'}}}));

const chart = echarts.init(document.getElementById('c'), null, {renderer:'canvas'});
chart.setOption({
  animation:false,
  backgroundColor:'#ffffff',
  textStyle:{fontFamily:FONT},
  grid, xAxis, yAxis, series, graphic,
  visualMap:[
    {type:'piecewise', show:false, dimension:0, seriesIndex:[0,1], pieces:aePieces},
    {type:'continuous', show:false, min:0, max:0.5, dimension:1, seriesIndex:s4Idx, inRange:{color:JET}},
    {type:'continuous', show:false, min:0, max:2*Math.PI, dimension:1, seriesIndex:phiIdx, inRange:{color:JET}}
  ]
});
</script></body></html>
